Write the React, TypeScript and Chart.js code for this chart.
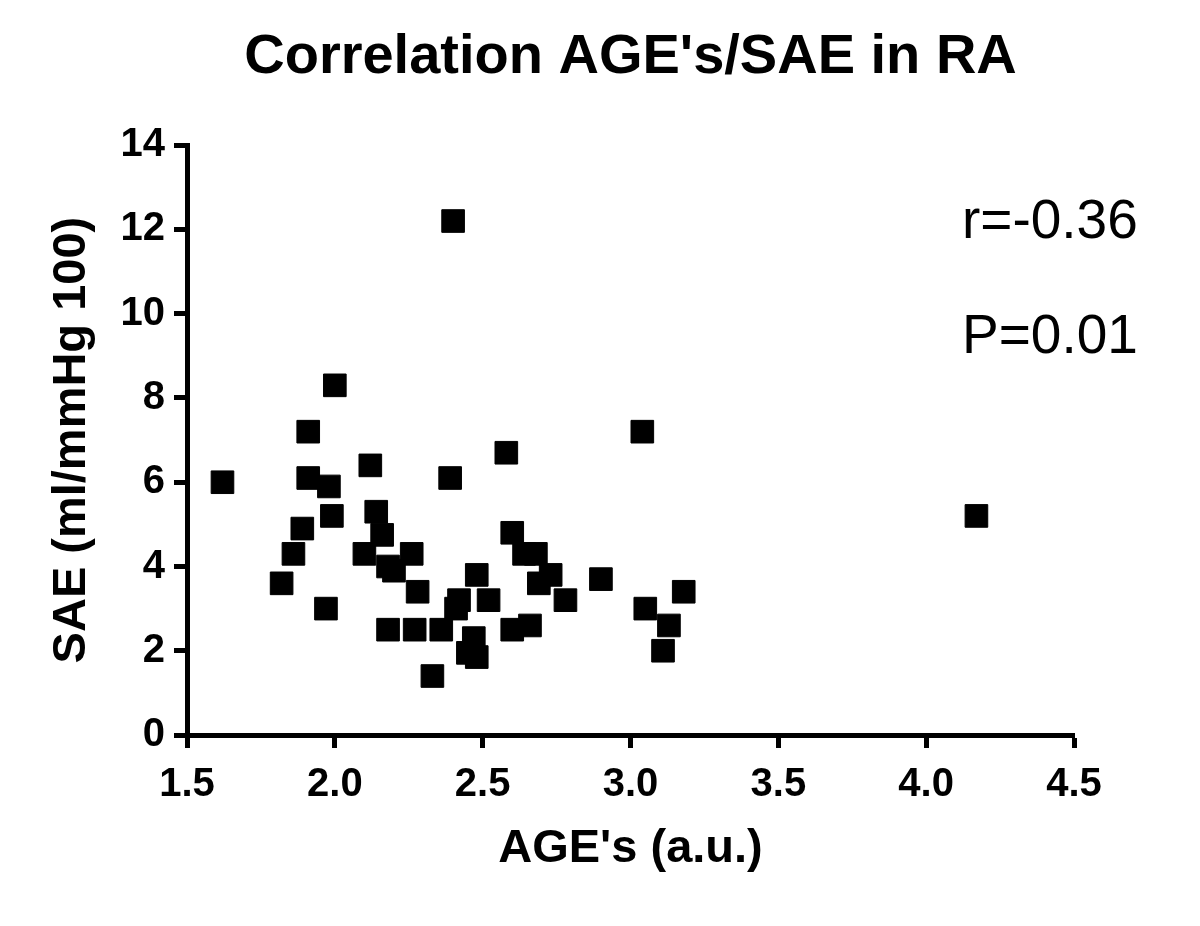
import React, { useEffect, useRef } from "react";
import { Chart, registerables } from "chart.js";

Chart.register(...registerables);

const chartTitle = "Correlation AGE's/SAE in RA";
const xAxisTitle = "AGE's (a.u.)";
const yAxisTitle = "SAE (ml/mmHg 100)";
const annotations = ["r=-0.36", "P=0.01"];

const ageValues = [
  1.62, 1.82, 1.86, 1.89, 1.91, 1.91, 1.98, 1.97, 2.0, 1.99,
  2.12, 2.1, 2.14, 2.16, 2.18, 2.2, 2.18, 2.27, 2.26, 2.28,
  2.36, 2.33, 2.39, 2.4, 2.41, 2.42, 2.47, 2.45, 2.48, 2.48,
  2.52, 2.58, 2.6, 2.64, 2.68, 2.69, 2.73, 2.78, 2.6, 2.66,
  2.9, 3.04, 3.05, 3.13, 3.11, 3.18, 4.17,
];
const saeValues = [
  6.0, 3.6, 4.3, 4.9, 7.2, 6.1, 5.9, 3.0, 8.3, 5.2,
  6.4, 4.3, 5.3, 4.75, 4.0, 3.9, 2.5, 2.5, 4.3, 3.4,
  2.5, 1.4, 6.1, 12.2, 3.0, 3.2, 2.3, 1.95, 1.85, 3.8,
  3.2, 6.7, 4.8, 4.3, 4.3, 3.6, 3.8, 3.2, 2.5, 2.6,
  3.7, 7.2, 3.0, 2.6, 2.0, 3.4, 5.2,
];

const xMin = 1.5;
const xMax = 4.5;
const xStep = 0.5;
const yMin = 0;
const yMax = 14;
const yStep = 2;

const FONT = "'Liberation Sans', Arial, Helvetica, sans-serif";

const annotationPlugin = {
  id: "corrText",
  afterDraw(chart: any) {
    const { ctx, chartArea } = chart;
    ctx.save();
    ctx.fillStyle = "#000";
    ctx.font = `55px ${FONT}`;
    ctx.textAlign = "left";
    ctx.textBaseline = "alphabetic";
    ctx.fillText(annotations[0], chartArea.right - 112, chartArea.top + 93);
    ctx.fillText(annotations[1], chartArea.right - 112, chartArea.top + 208);
    ctx.restore();
  },
};

export default function App() {
  const canvasRef = useRef<HTMLCanvasElement | null>(null);

  useEffect(() => {
    const canvas = canvasRef.current;
    if (!canvas) return;
    const points = ageValues.map((x, i) => ({ x, y: saeValues[i] }));
    const chart = new Chart(canvas, {
      type: "scatter",
      data: {
        datasets: [
          {
            data: points,
            pointStyle: "rect",
            pointRadius: 16,
            pointHoverRadius: 16,
            backgroundColor: "#000",
            borderColor: "#000",
            borderWidth: 1,
          },
        ],
      },
      options: {
        animation: false,
        responsive: false,
        maintainAspectRatio: false,
        layout: { padding: { left: 0, right: 126, top: 0, bottom: 0 } },
        plugins: {
          legend: { display: false },
          tooltip: { enabled: false },
          title: {
            display: true,
            fullSize: false,
            text: chartTitle,
            color: "#000",
            font: { family: FONT, size: 56, weight: "bold", lineHeight: 1.2 },
            padding: { top: 24, bottom: 54 },
          },
        },
        scales: {
          x: {
            type: "linear",
            min: xMin,
            max: xMax,
            afterFit: (scale: any) => {
              scale.height = 191;
            },
            border: { display: true, color: "#000", width: 5 },
            grid: {
              drawOnChartArea: false,
              drawTicks: true,
              tickLength: 13,
              tickWidth: 5,
              tickColor: "#000",
            },
            ticks: {
              stepSize: xStep,
              color: "#000",
              padding: 13,
              font: { family: FONT, size: 40, weight: "bold" },
              callback: (v: any) => Number(v).toFixed(1),
            },
            title: {
              display: true,
              text: xAxisTitle,
              color: "#000",
              font: { family: FONT, size: 47, weight: "bold", lineHeight: 1.2 },
              padding: { top: 0, bottom: 49 },
            },
          },
          y: {
            type: "linear",
            min: yMin,
            max: yMax,
            afterFit: (scale: any) => {
              scale.width = 187;
            },
            border: { display: true, color: "#000", width: 5 },
            grid: {
              drawOnChartArea: false,
              drawTicks: true,
              tickLength: 13,
              tickWidth: 5,
              tickColor: "#000",
            },
            ticks: {
              stepSize: yStep,
              color: "#000",
              padding: 9,
              font: { family: FONT, size: 40, weight: "bold" },
            },
            title: {
              display: true,
              text: yAxisTitle,
              color: "#000",
              font: { family: FONT, size: 47, weight: "bold", lineHeight: 1.2 },
              padding: { top: 44, bottom: 0 },
            },
          },
        },
      },
      plugins: [annotationPlugin],
    });
    return () => chart.destroy();
  }, []);

  return (
    <div
      style={{
        position: "absolute",
        left: 0,
        top: 0,
        width: 1200,
        height: 926,
        background: "#fff",
      }}
    >
      <canvas ref={canvasRef} width={1200} height={926} style={{ width: 1200, height: 926 }} />
    </div>
  );
}
